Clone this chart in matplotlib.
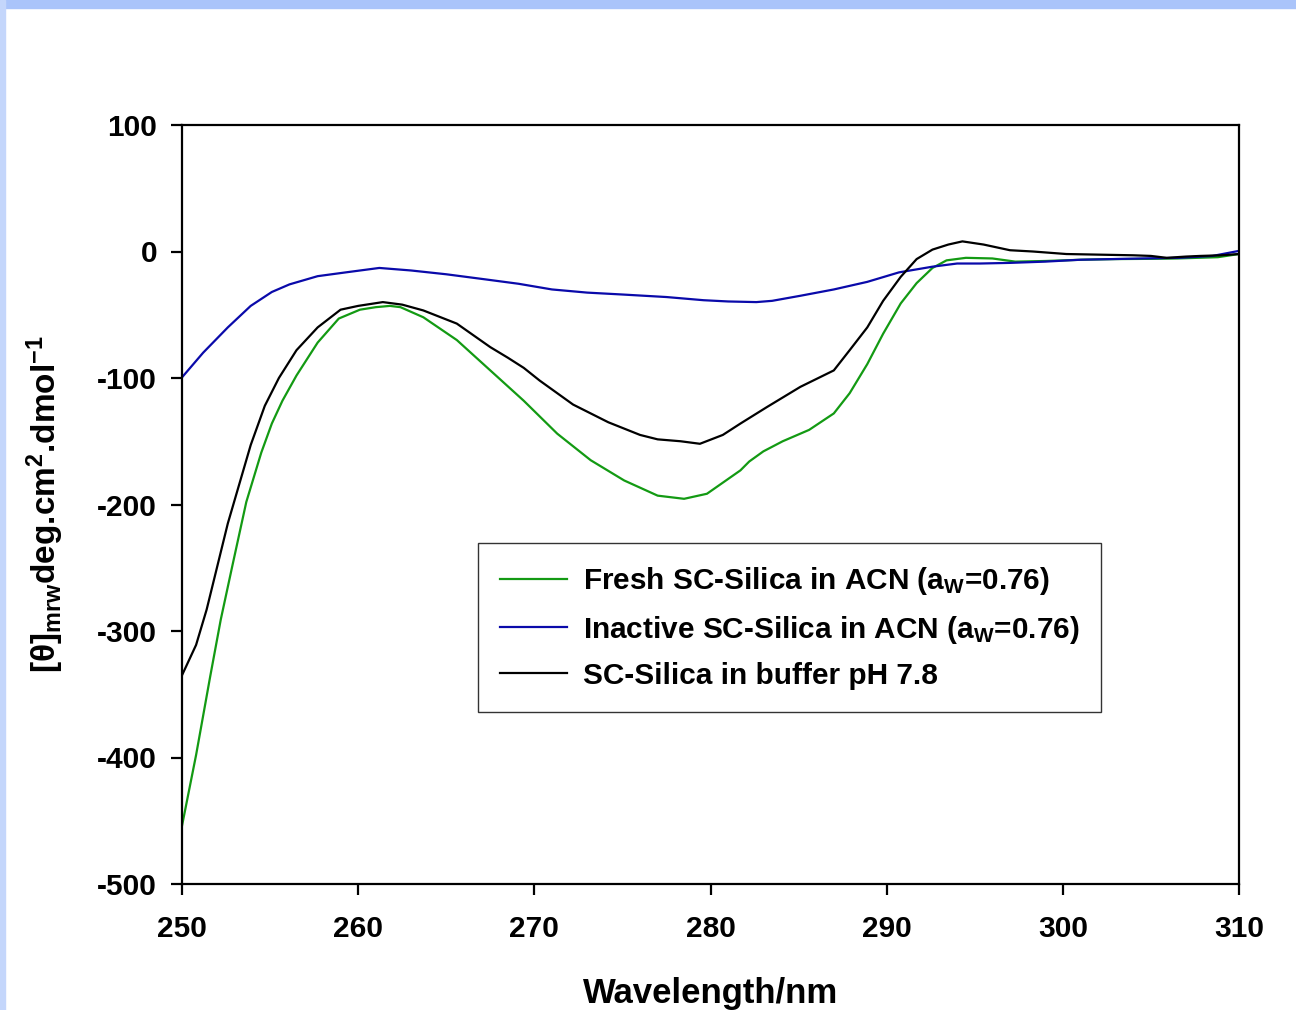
import matplotlib.pyplot as plt
from matplotlib.patches import Rectangle

plt.rcParams['font.family'] = ['Liberation Sans', 'DejaVu Sans']
plt.rcParams['font.weight'] = 'bold'
plt.rcParams['axes.labelweight'] = 'bold'
plt.rcParams['axes.unicode_minus'] = False
plt.rcParams['mathtext.fontset'] = 'custom'
plt.rcParams['mathtext.rm'] = 'Liberation Sans:bold'
plt.rcParams['mathtext.it'] = 'Liberation Sans:bold'
plt.rcParams['mathtext.bf'] = 'Liberation Sans:bold'
plt.rcParams['mathtext.default'] = 'rm'

# CD spectra (wavelength in nm, ellipticity)
fresh_wl = [250, 250.8, 251.6, 252.2, 252.85, 253.65, 254.5, 255.1, 255.7, 256.5,
            257.7, 258.9, 260.1, 261.0, 261.8, 262.4, 263.7, 265.6, 267.5, 269.4,
            271.3, 273.2, 275.1, 277.0, 278.5, 279.8, 281.7, 282.2, 283.0, 284.1,
            285.6, 287.0, 287.9, 288.9, 289.8, 290.8, 291.7, 292.6, 293.4, 294.5,
            296.0, 297.3, 299.0, 301.1, 303.0, 305.0, 306.5, 308.8, 310]
fresh_val = [-454, -398, -336, -291, -249, -198, -159, -136, -118, -98,
             -72, -53, -46, -44, -43, -44, -52, -70, -94, -118,
             -144, -165, -181, -193, -195.5, -191.5, -173, -166, -158, -150,
             -141, -128, -112, -89, -65, -41, -25, -13, -7, -5,
             -5.5, -8, -7.5, -6.5, -6, -5.8, -5.5, -4.5, -2]

inactive_wl = [250, 251.2, 252.6, 253.9, 255.1, 256.1, 257.7, 259.3, 261.2, 263.0,
               265.0, 267.2, 269.1, 271.0, 273.0, 275.0, 277.5, 279.6, 281.0, 282.6,
               283.5, 285.1, 287.0, 288.9, 290.7, 292.6, 294.0, 295.3, 297.0, 299.0,
               301.0, 302.8, 304.5, 306.6, 308.5, 310]
inactive_val = [-99.5, -80, -60, -43, -32, -26, -19.5, -16.5, -13, -15,
                -18, -22, -25.5, -30, -32.5, -34, -36, -38.5, -39.5, -40,
                -39, -35, -30, -24, -16.5, -12, -9.5, -9.5, -9, -8,
                -6.5, -6, -5.5, -5, -3.5, 0.5]

buffer_wl = [250, 250.8, 251.4, 252.0, 252.6, 253.25, 253.9, 254.7, 255.5, 256.5,
             257.7, 259.0, 260.0, 261.4, 262.5, 263.7, 265.6, 267.5, 268.5, 269.4,
             270.3, 271.3, 272.2, 273.2, 274.2, 275.1, 276.0, 277.0, 278.3, 279.4,
             280.7, 281.7, 283.2, 285.1, 287.0, 287.9, 288.9, 289.8, 290.8, 291.7,
             292.6, 293.5, 294.3, 295.5, 297.0, 298.3, 300.2, 302.1, 304.0, 305.0,
             305.9, 307.0, 307.8, 309.0, 310]
buffer_val = [-335, -311, -283, -249, -215, -184, -153, -122, -100, -78,
              -60, -46, -43, -40, -42, -46.6, -57, -75.6, -84, -92,
              -102, -112, -121, -128, -135, -140, -145, -148.5, -150, -152,
              -145, -136, -123, -107, -94, -78, -60, -39, -20, -6,
              1.5, 5.5, 8, 5.5, 1, 0, -2, -2.5, -3, -3.5,
              -5, -4, -3.5, -3, -2]

labels = ['Fresh SC-Silica in ACN (a$_{W}$=0.76)',
          'Inactive SC-Silica in ACN (a$_{W}$=0.76)',
          'SC-Silica in buffer pH 7.8']
colors = ['#139a13', '#0a0aaa', 'black']

fig = plt.figure(figsize=(12.96, 10.10), dpi=100)
# slide frame
fig.patches.append(Rectangle((0, 1 - 8 / 1010), 1, 8 / 1010, transform=fig.transFigure,
                             color='#aac4fa', zorder=0))
fig.patches.append(Rectangle((0, 0), 5 / 1296, 1, transform=fig.transFigure,
                             color='#c4d6fb', zorder=0))

ax = fig.add_axes([182 / 1296, 1 - 884 / 1010, 1057 / 1296, 759 / 1010])
ax.plot(fresh_wl, fresh_val, color=colors[0], lw=1.6, label=labels[0])
ax.plot(inactive_wl, inactive_val, color=colors[1], lw=1.6, label=labels[1])
ax.plot(buffer_wl, buffer_val, color=colors[2], lw=1.6, label=labels[2])

ax.set_xlim(250, 310)
ax.set_ylim(-500, 100)
ax.set_xticks(range(250, 311, 10))
ax.set_yticks(range(-500, 101, 100))
ax.tick_params(direction='out', length=8, width=1.6, labelsize=21.5)
ax.tick_params(axis='x', pad=14)
ax.tick_params(axis='y', pad=10)
for s in ax.spines.values():
    s.set_linewidth(1.6)

ax.set_xlabel('Wavelength/nm', fontsize=25)
ax.xaxis.set_label_coords(0.5, -0.122)
ax.set_ylabel('[θ]$_{mrw}$deg.cm$^{2}$.dmol$^{-1}$', fontsize=24)
ax.yaxis.set_label_coords(-0.11, 0.5)

leg = ax.legend(loc='upper left', bbox_to_anchor=(0.280, 0.449), fontsize=21.4,
                frameon=True, fancybox=False, edgecolor='black', handlelength=2.25,
                labelspacing=0.55, borderpad=0.74, handletextpad=0.54, borderaxespad=0)
leg.get_frame().set_linewidth(1.0)

fig.savefig('out.png', dpi=100)
